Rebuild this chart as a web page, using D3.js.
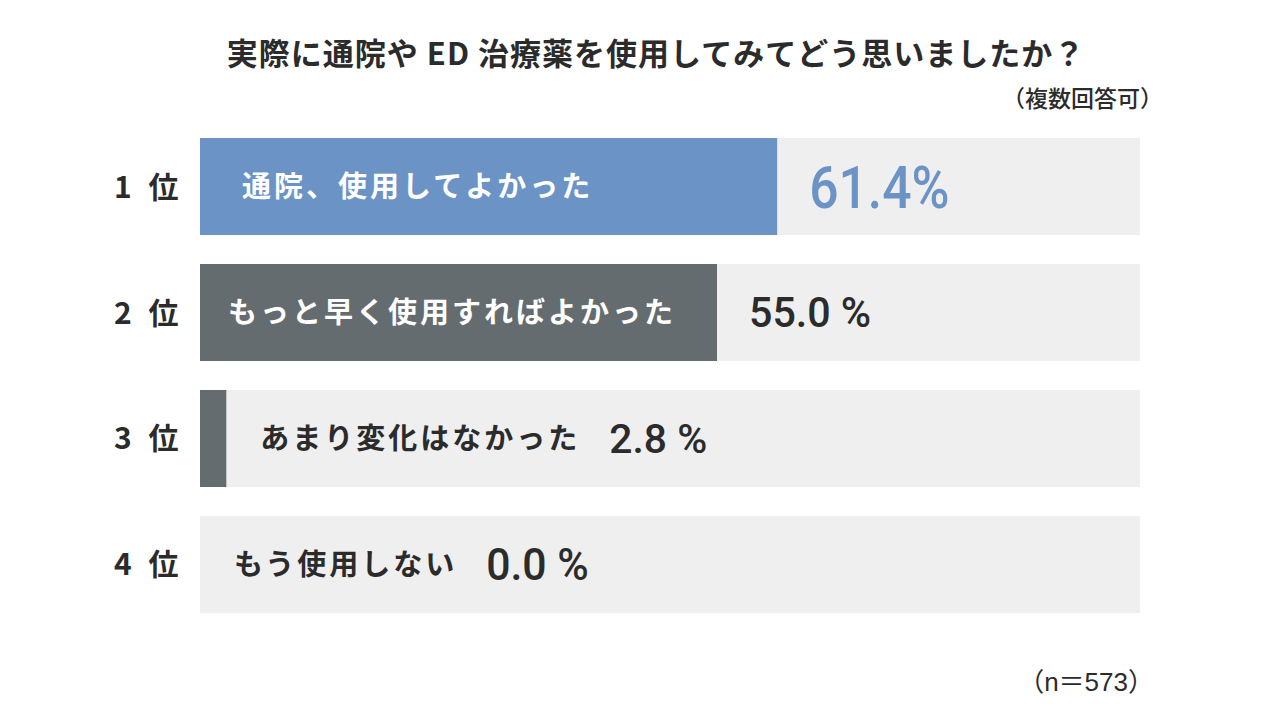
<!DOCTYPE html>
<html>
<head>
<meta charset="utf-8">
<script src="https://cdn.jsdelivr.net/npm/d3@7/dist/d3.min.js"></script>
<style>
  html, body { margin: 0; padding: 0; background: #ffffff; }
  svg { display: block; }
</style>
</head>
<body>
<svg id="chart" width="1280" height="720"></svg>
<script>
// ---- data ----
const title = "実際に通院や ED 治療薬を使用してみてどう思いましたか？";
const subtitle = "（複数回答可）";
const note = "（n＝573）";
const ranks = ["１位", "２位", "３位", "４位"];
const rankLabels = ["1 位", "2 位", "3 位", "4 位"];
const categories = ["通院、使用してよかった", "もっと早く使用すればよかった", "あまり変化はなかった", "もう使用しない"];
const values = [61.4, 55.0, 2.8, 0.0];

// ---- styles ----
const jpFont = "'Noto Sans CJK JP', 'Noto Sans', sans-serif";
const numFont = "Roboto, 'Liberation Sans', sans-serif";
const textColor = "#2b2b2b";
const barColors = ["#6b93c6", "#656c70", "#656c70", "#656c70"];
const trackColor = "#efefef";
const valueSizes = [60, 42, 40, 45];
const valueSqueeze = [0.86, 0.98, 1.02, 0.95];
const insidePad = [42, 28, 36, 32];

const svg = d3.select("#chart");

const x = d3.scaleLinear().domain([0, 100]).range([200, 1140]);
const y = d3.scaleBand().domain(ranks).range([138, 613]).paddingInner(0.23).paddingOuter(0);

// title
svg.append("text")
  .attr("x", 656).attr("y", 65)
  .attr("text-anchor", "middle")
  .attr("font-family", jpFont).attr("font-weight", 700)
  .attr("font-size", 31).attr("letter-spacing", 1)
  .attr("fill", textColor)
  .text(title);

svg.append("text")
  .attr("x", 1163).attr("y", 107)
  .attr("text-anchor", "end")
  .attr("font-family", jpFont).attr("font-weight", 500)
  .attr("font-size", 23)
  .attr("fill", textColor)
  .text(subtitle);

svg.append("text")
  .attr("x", 1154).attr("y", 691)
  .attr("text-anchor", "end")
  .attr("font-family", "'Liberation Sans', 'Noto Sans CJK JP', sans-serif")
  .attr("font-size", 26)
  .attr("fill", textColor)
  .text(note);

const rows = svg.append("g").selectAll("g")
  .data(ranks.map((r, i) => ({ rank: r, label: rankLabels[i], cat: categories[i], v: values[i], i })))
  .join("g");

// track
rows.append("rect")
  .attr("x", x(0)).attr("y", d => y(d.rank))
  .attr("width", x(100) - x(0)).attr("height", y.bandwidth())
  .attr("fill", trackColor);

// bar
rows.append("rect")
  .attr("x", x(0)).attr("y", d => y(d.rank))
  .attr("width", d => x(d.v) - x(0)).attr("height", y.bandwidth())
  .attr("fill", d => barColors[d.i]);

// rank labels
rows.append("text")
  .attr("x", 114)
  .attr("y", d => y(d.rank) + y.bandwidth() / 2 + 11)
  .attr("font-family", jpFont).attr("font-weight", 700)
  .attr("font-size", 30).attr("letter-spacing", 5)
  .attr("fill", textColor)
  .text(d => d.label);

// category labels
const labelFs = 29;
const catText = rows.append("text")
  .attr("font-family", jpFont).attr("font-weight", 700)
  .attr("font-size", labelFs).attr("letter-spacing", 3)
  .attr("y", d => y(d.rank) + y.bandwidth() / 2 + labelFs * 0.36)
  .text(d => d.cat);

catText.each(function (d) {
  const w = this.getComputedTextLength() - 3;
  const barEnd = x(d.v);
  const inside = (barEnd - x(0)) > w + 60;
  d.inside = inside;
  d.labelX = inside ? x(0) + insidePad[d.i] : barEnd + 34;
  d.labelEnd = d.labelX + w;
  d3.select(this)
    .attr("x", d.labelX)
    .attr("fill", inside ? "#ffffff" : textColor);
});

// value labels
rows.append("text")
  .attr("font-family", numFont)
  .attr("font-weight", 500)
  .attr("font-size", d => valueSizes[d.i])
  .attr("fill", d => d.i === 0 ? barColors[0] : textColor)
  .attr("x", d => Math.max(x(d.v), d.inside ? 0 : d.labelEnd) + 32)
  .attr("y", d => y(d.rank) + y.bandwidth() / 2 + valueSizes[d.i] * 0.355)
  .text(d => d.i === 0 ? d3.format(".1f")(d.v) + "%" : d3.format(".1f")(d.v) + " %")
  .each(function (d) {
    const w = this.getComputedTextLength();
    d3.select(this)
      .attr("textLength", w * valueSqueeze[d.i])
      .attr("lengthAdjust", "spacingAndGlyphs");
  });
</script>
</body>
</html>
